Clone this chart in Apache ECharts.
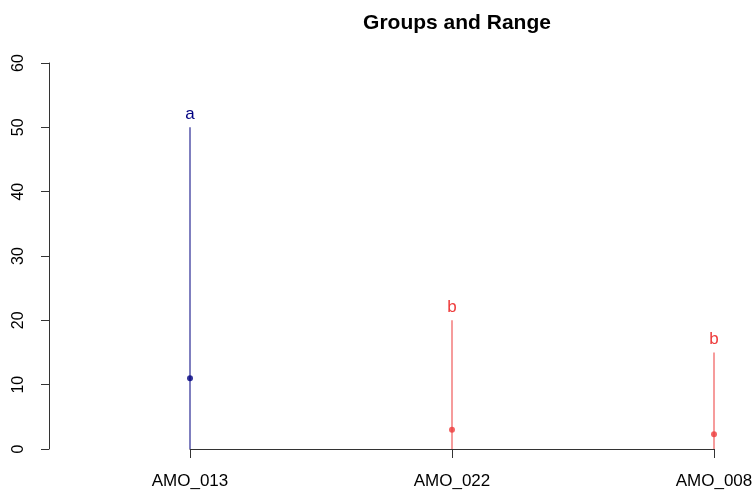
<!DOCTYPE html>
<html>
<head>
<meta charset="utf-8">
<script src="https://cdn.jsdelivr.net/npm/echarts@6/dist/echarts.min.js"></script>
<style>
  html, body { margin: 0; padding: 0; background: #fff; }
  #chart { width: 753px; height: 492px; }
</style>
</head>
<body>
<div id="chart"></div>
<script>
const groups = ['AMO_013', 'AMO_022', 'AMO_008']
const rangeMax = [50, 20, 15]
const centers = [11, 3, 2.3]
const letters = ['a', 'b', 'b']
const colors = ['#000080', '#EE3B3B', '#EE3B3B']
const yTicks = [0, 10, 20, 30, 40, 50, 60]

const font = 'Liberation Sans, Arial, sans-serif'

const option = {
  backgroundColor: '#fff',
  animation: false,
  title: {
    text: 'Groups and Range',
    left: 452,
    textAlign: 'center',
    top: 8,
    textStyle: { fontFamily: font, fontSize: 21, fontWeight: 'bold', color: '#000' }
  },
  grid: { left: 190, right: 39, top: 63, bottom: 43, outerBoundsMode: 'none', containLabel: false },
  xAxis: {
    type: 'category',
    data: groups,
    boundaryGap: false,
    axisLine: { lineStyle: { color: '#333', width: 1 } },
    axisTick: { show: true, length: 9, lineStyle: { color: '#333' } },
    axisLabel: { color: '#000', fontFamily: font, fontSize: 17, margin: 24, hideOverlap: false },
    splitLine: { show: false }
  },
  yAxis: {
    type: 'value',
    min: yTicks[0],
    max: yTicks[yTicks.length - 1],
    interval: 10,
    offset: 141,
    axisLine: { show: true, lineStyle: { color: '#333', width: 1 } },
    axisTick: { show: true, length: 8, lineStyle: { color: '#333' } },
    axisLabel: { color: '#000', fontFamily: font, fontSize: 16, rotate: 90, margin: 22 },
    splitLine: { show: false }
  },
  series: [
    {
      type: 'bar',
      barWidth: 1,
      data: rangeMax.map((v, i) => ({
        value: v,
        itemStyle: { color: colors[i] },
        label: { color: colors[i] }
      })),
      label: {
        show: true,
        position: 'top',
        distance: 5,
        fontFamily: font,
        fontSize: 17,
        formatter: p => letters[p.dataIndex]
      }
    },
    {
      type: 'scatter',
      symbolSize: 6,
      data: centers.map((v, i) => ({ value: v, itemStyle: { color: colors[i] } })),
      z: 3
    }
  ]
}

const myChart = echarts.init(document.getElementById('chart'))
myChart.setOption(option)
</script>
</body>
</html>
